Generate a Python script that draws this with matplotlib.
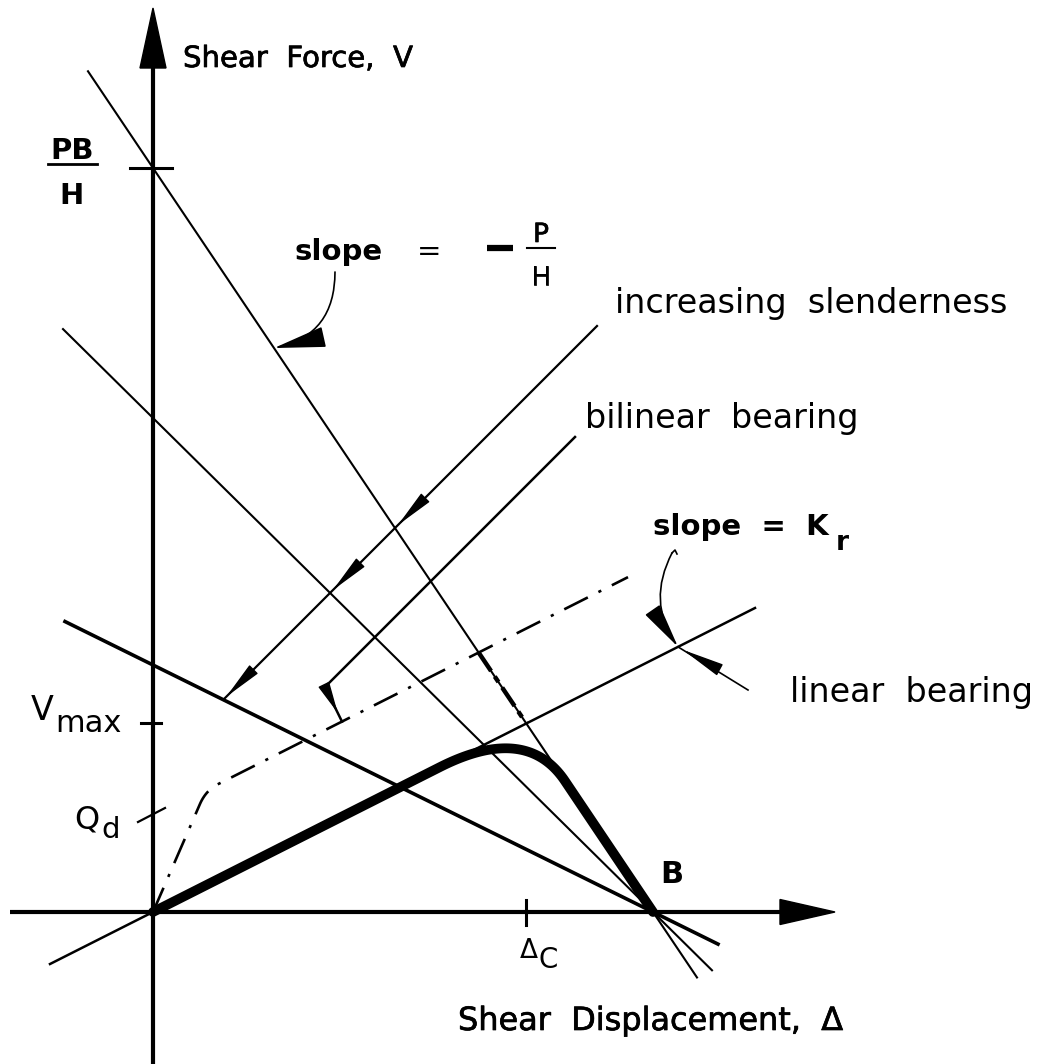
import numpy as np
import matplotlib
matplotlib.use("Agg")
import matplotlib.pyplot as plt
import matplotlib.patheffects as pe

# ---------------------------------------------------------------
# Bearing shear force V versus shear displacement Δ (schematic)
# ---------------------------------------------------------------
B = 5.0                       # displacement where V falls to zero
PB_H = 7.44                   # intercept of the steepest stability line
fall_V0 = [7.44, 4.94, 2.47]  # V at Δ = 0 for the three stability lines
fall_x = [(-0.65, 5.44), (-0.90, 5.59), (-0.88, 5.65)]
fall_lw = [1.5, 1.5, 2.6]

K_lin = 0.505                 # linear bearing stiffness
lin_x = (-1.03, 6.02)

K1, Qd, Kr = 2.3, 0.95, 0.505  # bilinear bearing
bil_x_end = 4.75

slender_c = 1.42              # V = Δ + c, "increasing slenderness" guide
slender_x_end = 4.44
bil_lead_c = 0.53             # "bilinear bearing" leader, V = Δ + c
bil_lead_x = (1.72, 4.22)
bil_lead_hit = 1.89

fillet_x = (2.87, 4.12)       # where the rounded response leaves the two lines

plt.rcParams['font.family'] = ['DejaVu Sans']
fig = plt.figure(figsize=(10.53, 10.64), dpi=100)
ax = fig.add_axes([0, 0, 1, 1])
ax.set_xlim(-1.53, 9.00)
ax.set_ylim(-1.52, 9.12)
ax.axis('off')

K = 'black'
heavy = [pe.withStroke(linewidth=0.5, foreground=K)]


def fall(v0, x):
    return v0 * (1.0 - np.asarray(x) / B)


def head(tip, tail, hl=0.8, hw=0.3, ms=25, lw=1.0):
    ax.annotate('', xy=tip, xytext=tail,
                arrowprops=dict(arrowstyle=f'-|>,head_length={hl},head_width={hw}',
                                mutation_scale=ms, lw=lw, color=K,
                                shrinkA=0, shrinkB=0))


# axes with arrowheads
ax.plot([0, 0], [-1.52, 8.6], color=K, lw=3.0, solid_capstyle='butt')
ax.plot([-1.43, 6.4], [0, 0], color=K, lw=3.0, solid_capstyle='butt')
ax.fill([-0.13, 0.13, 0.0], [8.44, 8.44, 9.04], color=K)
ax.fill([6.27, 6.27, 6.82], [0.125, -0.125, 0.0], color=K)

# stability lines through B
for v0, (xa, xb), lw in zip(fall_V0, fall_x, fall_lw):
    xs = np.array([xa, xb])
    ax.plot(xs, fall(v0, xs), color=K, lw=lw)

# linear bearing line
xs = np.array(lin_x)
ax.plot(xs, K_lin * xs, color=K, lw=1.8)

# bilinear bearing (dash-dot) with a slightly rounded yield corner
x_y = Qd / (K1 - Kr)
y_y = K1 * x_y
t = np.linspace(0, 1, 20)[:, None]
p0 = np.array([x_y - 0.06, K1 * (x_y - 0.06)])
p2 = np.array([x_y + 0.12, Qd + Kr * (x_y + 0.12)])
pc = np.array([x_y, y_y])
bez = (1 - t) ** 2 * p0 + 2 * (1 - t) * t * pc + t ** 2 * p2
bx = np.concatenate([[0.0], bez[:, 0], [bil_x_end]])
by = np.concatenate([[0.0], bez[:, 1], [Qd + Kr * bil_x_end]])
ax.plot(bx, by, color=K, lw=1.9, linestyle=(0, (10, 4.5, 1.2, 4.5)))

# bilinear response following the steep stability line
x_hit = (PB_H - Qd) / (Kr + PB_H / B)
dc = PB_H / (K_lin + PB_H / B)        # Δc : linear line meets steep line
vmax = K_lin * dc
xs = np.array([x_hit, dc])
ax.plot(xs, fall(PB_H, xs), color=K, lw=3.2, linestyle=(0, (5, 1.5, 1.5, 1.5)))

# rounded response of the linear bearing (heavy curve)
q0 = np.array([fillet_x[0], K_lin * fillet_x[0]])
q1 = np.array([dc, vmax])
q2 = np.array([fillet_x[1], fall(PB_H, fillet_x[1])])
t = np.linspace(0, 1, 60)[:, None]
cur = (1 - t) ** 2 * q0 + 2 * (1 - t) * t * q1 + t ** 2 * q2
hx = np.concatenate([[0.0], cur[:, 0], [B]])
hy = np.concatenate([[0.0], cur[:, 1], [0.0]])
ax.plot(hx, hy, color=K, lw=7.0, solid_capstyle='round', solid_joinstyle='round')

# "increasing slenderness" guide with arrows at each crossing
x_lo = (fall_V0[2] - slender_c) / (1 + fall_V0[2] / B)
xs = np.array([x_lo, slender_x_end])
ax.plot(xs, xs + slender_c, color=K, lw=1.6)
for v0 in fall_V0:
    xc = (v0 - slender_c) / (1 + v0 / B)
    yc = xc + slender_c
    head((xc + 0.03, yc + 0.03), (xc + 0.22, yc + 0.22), hl=1.1, hw=0.17, ms=22)

# "bilinear bearing" leader
xs = np.array(bil_lead_x)
ax.plot(xs, xs + bil_lead_c, color=K, lw=1.8)
corner = (bil_lead_x[0], bil_lead_x[0] + bil_lead_c)
hit = (bil_lead_hit, Qd + Kr * bil_lead_hit)
ax.plot([corner[0], hit[0]], [corner[1], hit[1]], color=K, lw=1.8)
mid = (corner[0] + 0.75 * (hit[0] - corner[0]), corner[1] + 0.75 * (hit[1] - corner[1]))
head(mid, corner, hl=0.9, hw=0.17, ms=22)

# ticks on the axes
ax.plot([-0.23, 0.19], [PB_H, PB_H], color=K, lw=2.2)
ax.plot([-0.12, 0.08], [vmax, vmax], color=K, lw=2.2)
ax.plot([-0.15, 0.12], [Qd - 0.05, Qd + 0.09], color=K, lw=1.6)
ax.plot([dc, dc], [-0.13, 0.12], color=K, lw=2.2)

# curved leader for slope = -P/H
x_a = 1.21
ax.annotate('', xy=(x_a, fall(PB_H, x_a)), xytext=(1.82, 6.40),
            arrowprops=dict(arrowstyle='-|>,head_length=1.5,head_width=0.3',
                            mutation_scale=22, lw=1.2, color=K,
                            connectionstyle='arc3,rad=-0.4',
                            shrinkA=0, shrinkB=0))

# curved leader for slope = Kr and the "linear bearing" leader
x_k = 5.25
kp = (x_k, K_lin * x_k)
ax.annotate('', xy=kp, xytext=(5.19, 3.59),
            arrowprops=dict(arrowstyle='-|>,head_length=1.3,head_width=0.25',
                            mutation_scale=22, lw=1.2, color=K,
                            connectionstyle='arc3,rad=0.3',
                            shrinkA=0, shrinkB=0))
ax.plot([5.19, 5.22, 5.24], [3.59, 3.62, 3.58], color=K, lw=1.2)
ax.plot([kp[0], 5.95], [kp[1], 2.22], color=K, lw=1.2)
head((kp[0] + 0.05, kp[1] - 0.03), (kp[0] + 0.4, kp[1] - 0.22), hl=1.2, hw=0.18, ms=22)

# text
fs = 22
ax.text(0.30, 8.45, 'Shear  Force,  V', fontsize=fs - 1, va='baseline', ha='left',
        path_effects=heavy)
ax.text(3.05, -1.18, 'Shear  Displacement,  Δ', fontsize=fs + 1, va='baseline',
        ha='left', path_effects=heavy)

ax.text(-0.81, 7.53, 'PB', fontsize=fs - 1, ha='center', va='baseline', fontweight='bold')
ax.plot([-1.05, -0.56], [7.48, 7.48], color=K, lw=2.0)
ax.text(-0.81, 7.08, 'H', fontsize=fs - 1, ha='center', va='baseline', fontweight='bold')

ax.text(1.42, 6.52, 'slope', fontsize=fs - 1, va='baseline', ha='left', fontweight='bold')
ax.text(2.64, 6.52, '=', fontsize=fs - 1, va='baseline', ha='left')
ax.plot([3.34, 3.60], [6.64, 6.64], color=K, lw=4.5, solid_capstyle='butt')
ax.text(3.88, 6.70, 'P', fontsize=fs - 3, ha='center', va='baseline', path_effects=heavy)
ax.plot([3.74, 4.02], [6.64, 6.64], color=K, lw=1.5)
ax.text(3.88, 6.27, 'H', fontsize=fs - 3, ha='center', va='baseline', path_effects=heavy)

ax.text(4.62, 5.99, 'increasing  slenderness', fontsize=fs + 2, va='baseline', ha='left')
ax.text(4.32, 4.84, 'bilinear  bearing', fontsize=fs + 2, va='baseline', ha='left')
ax.text(5.00, 3.77, 'slope  =  K', fontsize=fs - 1, va='baseline', ha='left', fontweight='bold')
ax.text(6.83, 3.62, 'r', fontsize=fs - 3, va='baseline', ha='left', fontweight='bold')
ax.text(6.37, 2.10, 'linear  bearing', fontsize=fs + 2, va='baseline', ha='left')

ax.text(-1.22, 1.92, 'V', fontsize=fs + 2, va='baseline', ha='left')
ax.text(-0.98, 1.80, 'max', fontsize=fs, va='baseline', ha='left')
ax.text(-0.79, 0.84, 'Q', fontsize=fs + 1, va='baseline', ha='left')
ax.text(-0.52, 0.74, 'd', fontsize=fs - 1, va='baseline', ha='left')
ax.text(5.07, 0.29, 'B', fontsize=fs, va='baseline', ha='left', fontweight='bold')
ax.text(3.67, -0.46, 'Δ', fontsize=fs - 3, va='baseline', ha='left')
ax.text(3.85, -0.56, 'C', fontsize=fs - 2, va='baseline', ha='left')

fig.savefig('out.png', dpi=100, facecolor='white')
